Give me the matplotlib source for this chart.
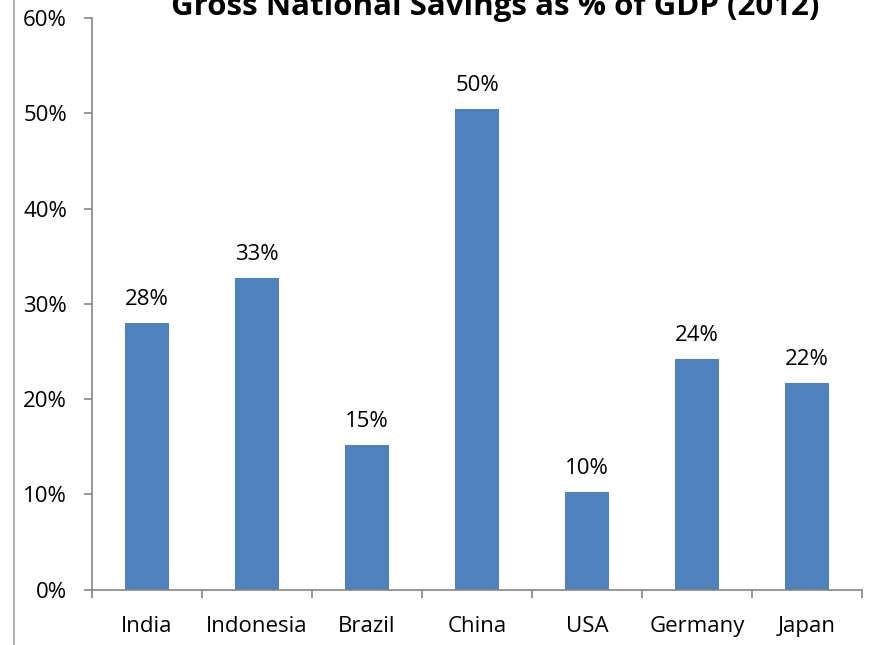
import matplotlib
matplotlib.use("Agg")
import matplotlib.pyplot as plt
from matplotlib.lines import Line2D
from matplotlib.ticker import FuncFormatter, MultipleLocator

categories = ["India", "Indonesia", "Brazil", "China", "USA", "Germany", "Japan"]
savings_pct = [28.0, 32.7, 15.2, 50.5, 10.2, 24.2, 21.7]
title = "Gross National Savings as % of GDP (2012)"

plt.rcParams['font.family'] = ['Open Sans', 'DejaVu Sans']

W, H = 871, 645
fig = plt.figure(figsize=(W / 100, H / 100), dpi=100)
ax = fig.add_axes([92 / W, 55.5 / H, (862 - 92) / W, (589.5 - 18.3) / H])

x = list(range(len(categories)))
bars = ax.bar(x, savings_pct, width=0.4, color="#4F81BD", zorder=2)

for xi, v in zip(x, savings_pct):
    ax.annotate(f"{round(v):d}%", (xi, v), xytext=(0, 13), textcoords="offset points",
                ha="center", va="baseline", fontsize=16, color="black")

ax.set_xlim(-0.5, len(categories) - 0.5)
ax.set_ylim(0, 60)
ax.yaxis.set_major_locator(MultipleLocator(10))
ax.yaxis.set_major_formatter(FuncFormatter(lambda v, p: f"{int(round(v))}%"))

ax.set_xticks(x)
ax.set_xticklabels(categories)
ax.set_xticks([i - 0.5 for i in range(len(categories) + 1)], minor=True)
ax.tick_params(axis="x", which="major", length=0, pad=19, labelsize=16)
ax.tick_params(axis="x", which="minor", length=6, width=1.2, color="#868686", direction="out")
ax.tick_params(axis="y", length=6, width=1.2, color="#868686", pad=12, labelsize=16)

for s in ["top", "right"]:
    ax.spines[s].set_visible(False)
for s in ["left", "bottom"]:
    ax.spines[s].set_color("#868686")
    ax.spines[s].set_linewidth(1.2)

fig.text(495 / W, (H - 15) / H, title, ha="center", va="baseline",
         fontsize=22.5, fontweight="bold", color="black")

fig.add_artist(Line2D([13.5 / W, 13.5 / W], [0, 1], transform=fig.transFigure,
                      color="#A6A6A6", linewidth=1.2))

fig.savefig("out.png", dpi=100)
